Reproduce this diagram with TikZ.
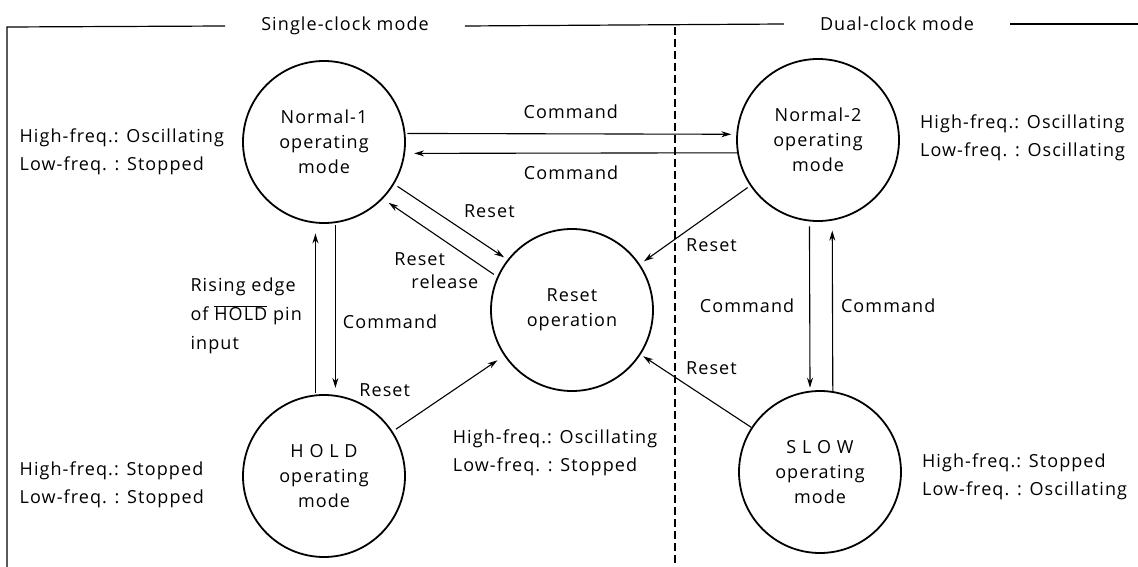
\documentclass[tikz,border=0pt]{standalone}
\usepackage{fontspec}
\setmainfont{Open Sans}[LetterSpace=6]
\usetikzlibrary{arrows.meta}
\usetikzlibrary{positioning}
\tikzset{
    arrow/.style={->, >={Stealth[length=10pt,width=6pt]}, line width=1.1pt},
    state/.style = {
      circle,
      draw,
      line width=1.8pt,
      minimum size=162pt,
      inner sep=0pt,
      align=center,
      font=\fontsize{18}{25}\selectfont
    },
    freq/.style = {
      align=left,
      inner sep=0pt,
      font=\fontsize{18}{28}\selectfont
    },
    tag/.style = {
      inner sep=0pt,
      font=\fontsize{18}{25}\selectfont
    },
    modetitle/.style = {
      tag,
      fill=white,
      inner xsep=36pt,
      inner ysep=4pt
    },
}

\begin{document}
\begin{tikzpicture}[x=1pt, y=-1pt]
      \useasboundingbox (0,0) rectangle (1138,567);

      % mode frame
      \node [modetitle] (single) at (345,26) {Single-clock mode};
      \node [modetitle] (dual) at (897,24) {Dual-clock mode};
      \draw[line width=1.2pt] (7,567) -- (7,27) -- (single.west);
      \draw[line width=1.2pt] (single.east) -- (dual.west);
      \draw[line width=1.2pt] (dual.east) -- (1138,24);
      \draw[line width=1.1pt, dash pattern=on 8pt off 4pt] (675,27) -- (675,567);

      % states
      \node [state] (normalone) at (324,142) {Normal-1\\operating\\mode};
      \node [state] (normaltwo) at (818,140) {Normal-2\\operating\\mode};
      \node [state] (reset) at (572,310) {Reset\\operation};
      \node [state] (hold) at (324,476) {H O L D\\operating\\mode};
      \node [state] (slow) at (820,472) {S L O W\\operating\\mode};

      \node [freq, left=18pt of normalone, yshift=-10pt] (normalonefreq)
        {High-freq.: Oscillating\\Low-freq. : Stopped};
      \node [freq, right=20pt of normaltwo, yshift=2pt] (normaltwofreq)
        {High-freq.: Oscillating\\Low-freq. : Oscillating};
      \node [freq, below=38pt of reset, xshift=-17pt] (resetfreq)
        {High-freq.: Oscillating\\Low-freq. : Stopped};
      \node [freq, left=38pt of hold, yshift=-9pt] (holdfreq)
        {High-freq.: Stopped\\Low-freq. : Stopped};
      \node [freq, right=20pt of slow, yshift=-5pt] (slowfreq)
        {High-freq.: Stopped\\Low-freq. : Oscillating};

      % transitions
      \draw[arrow, shorten >=5pt, shorten <=2pt] (normalone.6)
        -- node[tag, midway, above=15pt] (cmdtwo) {Command} (normaltwo.176);
      \draw[arrow, shorten >=9pt] (normaltwo.189)
        -- node[tag, midway, below=12pt] (cmdone) {Command} (normalone.352);

      \draw[arrow, shorten >=4pt, shorten <=4pt] (normalone.329)
        -- node[tag, pos=.84, above=29pt] (resetone) {Reset} (reset.142);
      \draw[arrow, shorten >=7pt, shorten <=4pt] (reset.156)
        -- node[tag, pos=.16, anchor=north east, yshift=12pt, align=left,
                font=\fontsize{18}{23}\selectfont] (release)
           {Reset\\\hspace*{17pt}release} (normalone.316);
      \draw[arrow, shorten >=5pt, shorten <=3pt] (normaltwo.214)
        -- node[tag, pos=.35, below=25pt] (resettwo) {Reset} (reset.34);
      \draw[arrow, shorten >=8pt, shorten <=4pt] (hold.33)
        -- node[tag, pos=0, above=34pt, xshift=-8pt] (resethold) {Reset} (reset.214);
      \draw[arrow, shorten >=3pt] (slow.147)
        -- node[tag, pos=.36, above=26pt] (resetslow) {Reset} (reset.327);

      \draw[arrow, shorten >=7pt, shorten <=2pt] (normalone.278)
        -- node[tag, pos=.575, right=7pt] (cmdhold) {Command} (hold.82);
      \draw[arrow, shorten >=10pt, shorten <=2pt] (hold.96)
        -- node[freq, pos=.46, left=13pt, font=\fontsize{18}{29}\selectfont] (rising)
           {Rising edge\\of $\overline{\mbox{HOLD}}$ pin\\input} (normalone.264);

      \draw[arrow, shorten >=3pt, shorten <=5pt] (normaltwo.264)
        -- node[tag, midway, left=15pt] (cmdslow) {Command} (slow.97);
      \draw[arrow, shorten >=10pt] (slow.81)
        -- node[tag, midway, right=8pt] (cmdnormal) {Command} (normaltwo.280);
\end{tikzpicture}
\end{document}
